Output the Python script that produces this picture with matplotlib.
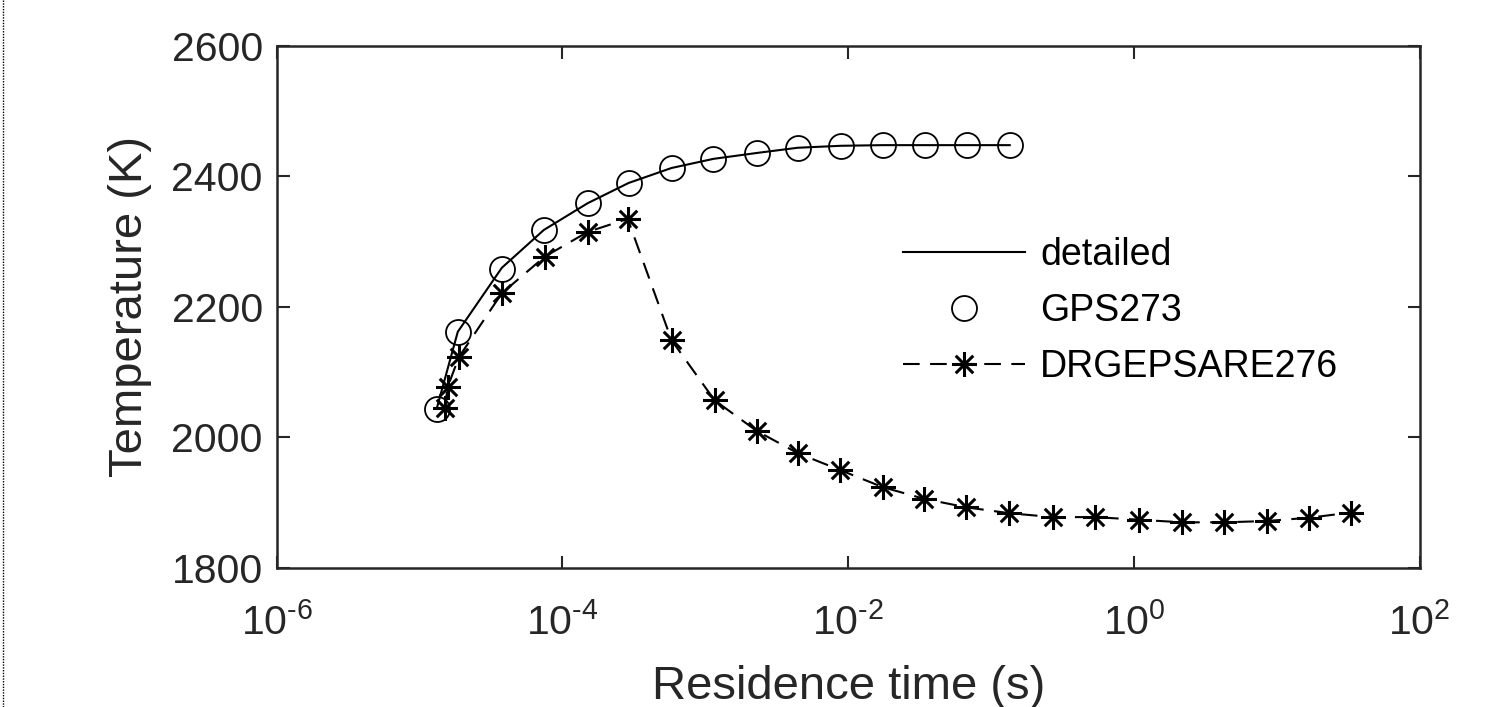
"""
Residence time vs temperature: detailed mechanism vs two reduced mechanisms.
"""

import matplotlib
matplotlib.use("Agg")
import matplotlib.pyplot as plt
from matplotlib.lines import Line2D
from matplotlib.path import Path
from matplotlib.ticker import NullLocator

# detailed mechanism (solid line)
detailed_t = [1.32e-5, 1.85e-5, 3.76e-5, 7.4e-5, 1.5e-4, 2.9e-4, 5.8e-4, 1.14e-3,
              2.29e-3, 4.43e-3, 8.85e-3, 1.74e-2, 3.43e-2, 6.77e-2, 0.135]
detailed_T = [2045, 2162, 2260, 2318, 2359, 2390, 2413, 2427,
              2436, 2444, 2447, 2448, 2448, 2448, 2448]

# GPS273 (circles)
gps_t = [1.32e-5, 1.85e-5, 3.76e-5, 7.4e-5, 1.5e-4, 2.9e-4, 5.8e-4, 1.14e-3,
         2.29e-3, 4.43e-3, 8.85e-3, 1.74e-2, 3.43e-2, 6.77e-2, 0.135]
gps_T = [2043, 2162, 2258, 2318, 2359, 2390, 2413, 2427,
         2436, 2444, 2447, 2448, 2448, 2448, 2448]

# DRGEPSARE276 (dashed + asterisks)
drg_t = [1.5e-5, 1.57e-5, 1.88e-5, 3.76e-5, 7.5e-5, 1.5e-4, 2.86e-4, 5.8e-4,
         1.16e-3, 2.29e-3, 4.43e-3, 8.8e-3, 1.74e-2, 3.4e-2, 6.7e-2, 0.134,
         0.27, 0.53, 1.08, 2.17, 4.3, 8.5, 16.8, 33.0]
drg_T = [2045, 2077, 2123, 2221, 2277, 2315, 2335, 2149,
         2057, 2010, 1976, 1950, 1924, 1906, 1893, 1884,
         1878, 1878, 1874, 1870, 1870, 1872, 1877, 1885]

x_ticks = [1e-6, 1e-4, 1e-2, 1e0, 1e2]
x_tick_labels = [r"$10^{\text{-}6}$", r"$10^{\text{-}4}$", r"$10^{\text{-}2}$",
                 r"$10^{0}$", r"$10^{2}$"]
y_ticks = [1800, 2000, 2200, 2400, 2600]

TEXT_GREY = "#262626"

plt.rcParams["font.family"] = ["Liberation Sans", "DejaVu Sans"]
plt.rcParams["mathtext.default"] = "regular"
plt.rcParams["mathtext.fontset"] = "custom"
plt.rcParams["mathtext.rm"] = "Liberation Sans"
plt.rcParams["axes.unicode_minus"] = False

# MATLAB-style asterisk: plus and cross together
asterisk = Path(
    [(-1, 0), (1, 0), (0, -1), (0, 1), (-0.7, -0.7), (0.7, 0.7), (-0.7, 0.7), (0.7, -0.7)],
    [Path.MOVETO, Path.LINETO] * 4,
)

fig = plt.figure(figsize=(14.96, 7.07), dpi=100)
ax = fig.add_axes([0.185, 0.1966, 0.764, 0.7384])

ax.plot(detailed_t, detailed_T, "-", color="black", lw=1.5, label="detailed")
ax.plot(gps_t, gps_T, "o", color="black", mfc="none", mec="black", ms=18, mew=1.3,
        label="GPS273")
ax.plot(drg_t, drg_T, "--", color="black", lw=1.5, dashes=(8, 5),
        marker=asterisk, ms=18, mew=2.2, mec="black", label="DRGEPSARE276")

ax.set_xscale("log")
ax.set_xlim(1e-6, 1e2)
ax.set_ylim(1800, 2600)
ax.set_xticks(x_ticks)
ax.set_xticklabels(x_tick_labels)
ax.xaxis.set_minor_locator(NullLocator())
ax.set_yticks(y_ticks)

ax.tick_params(which="both", direction="in", top=True, right=True,
               length=9, width=1.5, labelsize=29.5, colors=TEXT_GREY)
ax.tick_params(axis="x", pad=25)
ax.tick_params(axis="y", pad=10)
for side in ax.spines.values():
    side.set_linewidth(1.8)
    side.set_color(TEXT_GREY)

ax.set_xlabel("Residence time (s)", fontsize=34, color=TEXT_GREY, labelpad=16)
ax.set_ylabel("Temperature (K)", fontsize=34, color=TEXT_GREY, labelpad=14)

ax.legend(loc="center left", bbox_to_anchor=(0.548, 0.492), frameon=False, fontsize=27,
          handlelength=3.25, handletextpad=0.4, labelspacing=0.54,
          borderpad=0, borderaxespad=0)

# dotted frame edge on the left of the image
fig.add_artist(Line2D([0.002, 0.002], [0, 1], transform=fig.transFigure,
                      color="black", lw=1, linestyle=(0, (1, 1))))

fig.savefig("out.png", dpi=100)
